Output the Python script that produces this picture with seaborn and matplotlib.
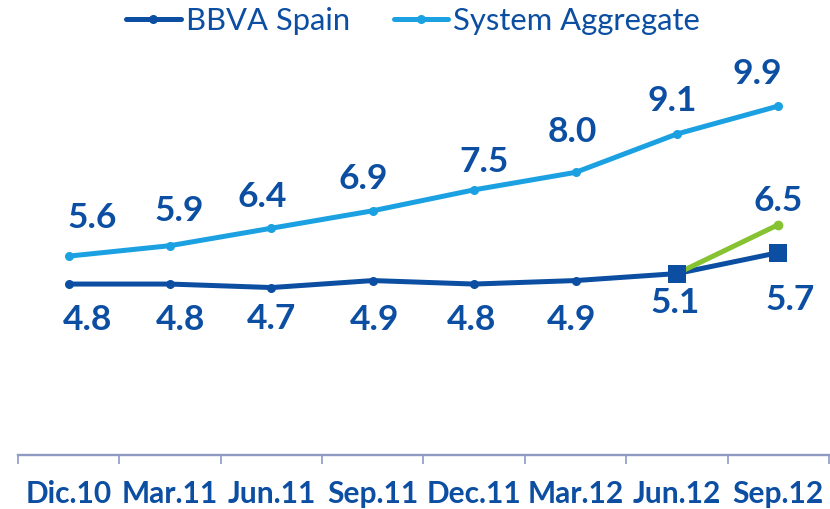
import numpy as np
import pandas as pd
import seaborn as sns
import matplotlib.pyplot as plt

# data
periods = ['Dic.10', 'Mar.11', 'Jun.11', 'Sep.11', 'Dec.11', 'Mar.12', 'Jun.12', 'Sep.12']
bbva_spain = [4.8, 4.8, 4.7, 4.9, 4.8, 4.9, 5.1, 5.7]
system_aggregate = [5.6, 5.9, 6.4, 6.9, 7.5, 8.0, 9.1, 9.9]
green_periods = ['Jun.12', 'Sep.12']
green_values = [5.1, 6.5]
square_periods = ['Jun.12', 'Sep.12']

# label placement (pixel nudges from each point, as in the original layout)
sys_dx = [23, 9, -9, -10, 10, -3, -5, -21]
sys_dy = [28, 25, 21, 22, 18, 30, 23, 22]
bbva_dx = [19, 10, 0, 2, -3, -4, -2, 12]
bbva_dy = [-46, -46, -41, -49, -46, -49, -39, -57]

DARK = '#0B4EA2'
LIGHT = '#1BA1E2'
GREEN = '#86C232'
AXIS = '#8E9AC2'

sns.set_style('white')
plt.rcParams['font.family'] = ['Lato', 'DejaVu Sans']

df = pd.DataFrame({'period': periods, 'x': np.arange(len(periods)),
                   'bbva': bbva_spain, 'system': system_aggregate})
xpos = {p: i for i, p in enumerate(periods)}

fig = plt.figure(figsize=(8.3, 5.09), dpi=100)
ax = fig.add_axes([0.0217, 0.106, 0.977, 0.894])

sns.lineplot(data=df, x='x', y='bbva', ax=ax, color=DARK, lw=3.6,
             marker='o', markersize=6.5, markeredgewidth=0, label='BBVA Spain')
sns.lineplot(data=df, x='x', y='system', ax=ax, color=LIGHT, lw=3.6,
             marker='o', markersize=6.5, markeredgewidth=0, label='System Aggregate')

gx = [xpos[p] for p in green_periods]
ax.plot(gx, green_values, color=GREEN, lw=3.6, zorder=2)
ax.plot(gx[-1], green_values[-1], 'o', color=GREEN, markersize=7, markeredgewidth=0, zorder=3)

sq = df[df['period'].isin(square_periods)]
sns.scatterplot(x=sq['x'], y=sq['bbva'], ax=ax, marker='s', s=170, color=DARK,
                linewidth=0, zorder=4, legend=False)

# value labels
lab = dict(ha='center', va='baseline', fontsize=25.5, color=DARK, fontweight='bold',
           textcoords='offset pixels')
for i, v in enumerate(system_aggregate):
    ax.annotate(f'{v:.1f}', (i, v), xytext=(sys_dx[i], sys_dy[i]), **lab)
for i, v in enumerate(bbva_spain):
    ax.annotate(f'{v:.1f}', (i, v), xytext=(bbva_dx[i], bbva_dy[i]), **lab)
ax.annotate(f'{green_values[-1]:.1f}', (gx[-1], green_values[-1]), xytext=(0, 14), **lab)

ax.set_xlim(-0.5, len(periods) - 0.5)
ax.set_ylim(-0.1, 12.94)
ax.set_yticks([])
ax.set_xticks(np.arange(len(periods)))
ax.set_xticklabels(periods, fontsize=21.5, fontweight='bold', color=DARK)
ax.set_xticks(np.arange(-0.5, len(periods)), minor=True)
ax.tick_params(axis='x', which='both', bottom=True)
ax.tick_params(axis='x', which='major', length=0, pad=18)
ax.tick_params(axis='x', which='minor', length=6.5, width=1.2, color=AXIS, direction='out')
ax.set_xlabel('')
ax.set_ylabel('')
for s in ['top', 'left', 'right']:
    ax.spines[s].set_visible(False)
ax.spines['bottom'].set_color(AXIS)
ax.spines['bottom'].set_linewidth(1.7)

leg = ax.legend(loc='center', bbox_to_anchor=(413 / 830, 1 - 21 / 509),
                bbox_transform=fig.transFigure, ncol=2, frameon=False,
                fontsize=22.3, handlelength=1.77, handletextpad=0.16, columnspacing=1.42,
                borderpad=0, borderaxespad=0)
for t in leg.get_texts():
    t.set_color(DARK)

fig.savefig('out.png', dpi=100)
